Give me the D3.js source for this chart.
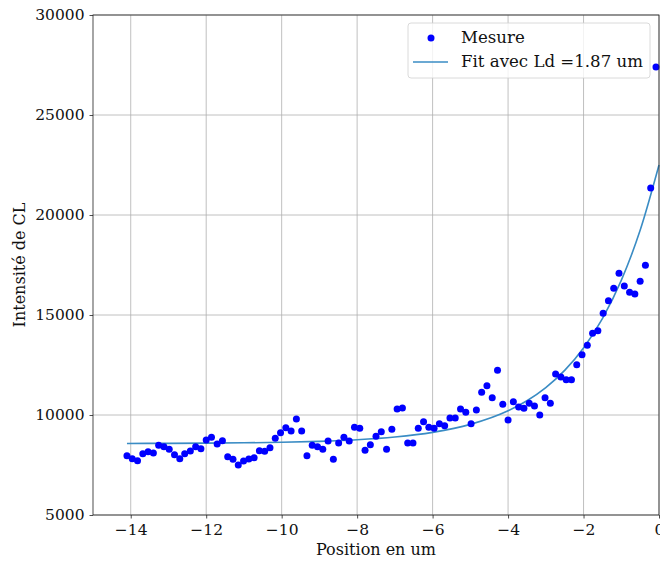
<!DOCTYPE html>
<html>
<head>
<meta charset="utf-8">
<script src="https://cdn.jsdelivr.net/npm/d3@7"></script>
<style>
  body { margin: 0; background: white; }
  svg { display: block; }
</style>
</head>
<body>
<div id="chart"></div>
<script>
var width = 660;
var height = 561;
var margin = {left: 93, right: 1, top: 15, bottom: 46};

// measured points
var positions = [-14.10, -13.96, -13.82, -13.68, -13.54, -13.40, -13.26, -13.12, -12.98, -12.84,
    -12.70, -12.57, -12.42, -12.28, -12.14, -12.00, -11.86, -11.71, -11.57, -11.43,
    -11.29, -11.15, -11.01, -10.87, -10.73, -10.59, -10.45, -10.31, -10.17, -10.03,
    -9.89, -9.75, -9.61, -9.47, -9.33, -9.19, -9.05, -8.91, -8.77, -8.63,
    -8.49, -8.35, -8.21, -8.07, -7.93, -7.79, -7.65, -7.50, -7.36, -7.22,
    -7.08, -6.94, -6.80, -6.66, -6.52, -6.38, -6.24, -6.10, -5.96, -5.82,
    -5.68, -5.54, -5.40, -5.26, -5.12, -4.98, -4.84, -4.70, -4.56, -4.42,
    -4.28, -4.14, -4.00, -3.86, -3.72, -3.58, -3.44, -3.30, -3.16, -3.02,
    -2.88, -2.74, -2.60, -2.46, -2.32, -2.18, -2.04, -1.90, -1.76, -1.62,
    -1.48, -1.34, -1.20, -1.06, -0.92, -0.78, -0.64, -0.50, -0.36, -0.22,
    -0.08];
var intensities = [7965, 7815, 7717, 8067, 8167, 8100, 8483, 8417, 8283, 8017,
    7817, 8067, 8200, 8417, 8317, 8750, 8883, 8550, 8717, 7917,
    7783, 7500, 7700, 7800, 7867, 8217, 8183, 8367, 8833, 9117,
    9367, 9200, 9800, 9200, 7967, 8483, 8417, 8283, 8700, 7783,
    8600, 8883, 8700, 9383, 9333, 8233, 8517, 8933, 9167, 8283,
    9283, 10300, 10350, 8600, 8600, 9333, 9667, 9383, 9333, 9567,
    9467, 9850, 9850, 10300, 10133, 9567, 10250, 11133, 11467, 10867,
    12233, 10533, 9750, 10667, 10400, 10333, 10583, 10450, 10000, 10867,
    10583, 12050, 11900, 11767, 11767, 12517, 13017, 13483, 14083, 14217,
    15083, 15717, 16333, 17083, 16450, 16133, 16050, 16683, 17483, 21350,
    27400];

// fit curve
var fitX = [-14.1, -13, -12, -11, -10, -9, -8, -7, -6, -5, -4, -3.5, -3, -2.5, -2, -1.5, -1, -0.5, 0];
var fitY = [8577, 8583, 8593, 8609, 8636, 8683, 8763, 8900, 9133, 9531, 10211, 10714, 11371, 12229, 13351, 14816, 16730, 19232, 22500];

var xTicks = [-14, -12, -10, -8, -6, -4, -2, 0];
var yTicks = [5000, 10000, 15000, 20000, 25000, 30000];
var legendLabels = ["Mesure", "Fit avec Ld =1.87 um"];

var font = "DejaVu Serif, serif";

var svg = d3.select("#chart")
            .append("svg")
            .attr("width", width)
            .attr("height", height);

var x = d3.scaleLinear().domain([-15, 0]).range([margin.left, width - margin.right]);
var y = d3.scaleLinear().domain([5000, 30000]).range([height - margin.bottom, margin.top]);

// grid
svg.append("g")
    .selectAll("line")
    .data(xTicks)
    .join("line")
    .attr("x1", d => x(d)).attr("x2", d => x(d))
    .attr("y1", y(30000)).attr("y2", y(5000))
    .attr("stroke", "#b0b0b0")
    .attr("stroke-width", 0.8);

svg.append("g")
    .selectAll("line")
    .data(yTicks)
    .join("line")
    .attr("x1", x(-15)).attr("x2", x(0))
    .attr("y1", d => y(d)).attr("y2", d => y(d))
    .attr("stroke", "#b0b0b0")
    .attr("stroke-width", 0.8);

// fit line
var lineGenerator = d3.line()
                      .x((d, i) => x(fitX[i]))
                      .y(d => y(d))
                      .curve(d3.curveMonotoneX);

svg.append("path")
    .datum(fitY)
    .attr("d", lineGenerator)
    .attr("fill", "none")
    .attr("stroke", "#3a8cc4")
    .attr("stroke-width", 1.6);

// points
svg.append("g")
    .selectAll("circle")
    .data(intensities)
    .join("circle")
    .attr("cx", (d, i) => x(positions[i]))
    .attr("cy", d => y(d))
    .attr("r", 3.5)
    .attr("fill", "#0000ff");

// axes
var xAxis = d3.axisBottom(x).tickValues(xTicks).tickSize(3.5).tickPadding(5)
              .tickFormat(d => d3.format("d")(d).replace("-", "\u2212"));
svg.append("g")
    .attr("transform", "translate(0," + y(5000) + ")")
    .call(xAxis)
    .call(g => g.select(".domain").remove());

var yAxis = d3.axisLeft(y).tickValues(yTicks).tickSize(3.5).tickPadding(5)
              .tickFormat(d3.format("d"));
svg.append("g")
    .attr("transform", "translate(" + x(-15) + ",0)")
    .call(yAxis)
    .call(g => g.select(".domain").remove());

svg.selectAll(".tick text")
    .style("font-family", font)
    .style("font-size", "15.5px")
    .attr("fill", "#111");
svg.selectAll(".tick line").attr("stroke", "#222").attr("stroke-width", 0.8);

// spines
svg.append("rect")
    .attr("x", x(-15))
    .attr("y", y(30000))
    .attr("width", x(0) - x(-15))
    .attr("height", y(5000) - y(30000))
    .attr("fill", "none")
    .attr("stroke", "#222")
    .attr("stroke-width", 0.8);

// labels
svg.append("text")
    .attr("x", (x(-15) + x(0)) / 2)
    .attr("y", 555)
    .style("text-anchor", "middle")
    .style("font-family", font)
    .style("font-size", "16px")
    .attr("fill", "#111")
    .text("Position en um");

svg.append("text")
    .attr("transform", "translate(25," + ((y(5000) + y(30000)) / 2) + ") rotate(-90)")
    .style("text-anchor", "middle")
    .style("font-family", font)
    .style("font-size", "16px")
    .attr("fill", "#111")
    .text("Intensité de CL");

// legend
var legend = svg.append("g").attr("transform", "translate(408,23)");
legend.append("rect")
    .attr("width", 242)
    .attr("height", 55)
    .attr("rx", 3)
    .attr("fill", "white")
    .attr("fill-opacity", 0.8)
    .attr("stroke", "#d0d0d0")
    .attr("stroke-width", 0.8);
legend.append("circle")
    .attr("cx", 23)
    .attr("cy", 15)
    .attr("r", 3.5)
    .attr("fill", "#0000ff");
legend.append("line")
    .attr("x1", 5).attr("x2", 40)
    .attr("y1", 39).attr("y2", 39)
    .attr("stroke", "#3a8cc4")
    .attr("stroke-width", 1.6);
legend.selectAll("text")
    .data(legendLabels)
    .join("text")
    .attr("x", 53)
    .attr("y", (d, i) => 20 + i * 24)
    .style("font-family", font)
    .style("font-size", "16.6px")
    .attr("fill", "#111")
    .text(d => d);
</script>
</body>
</html>
